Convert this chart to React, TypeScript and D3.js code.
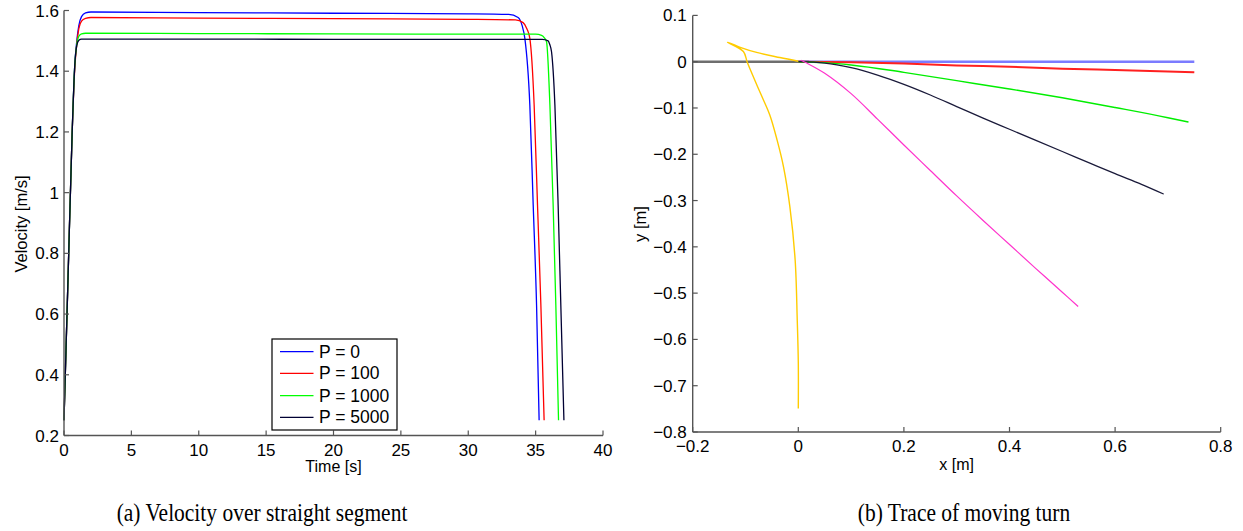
import React from "react";
import * as d3 from "d3";

// ---------- Left chart data: velocity over time ----------
const blueT = [0, 0.3, 0.6, 0.8, 0.95, 1.1, 1.3, 1.6, 2.0, 10, 20, 30, 33.0, 33.7, 34.0, 34.2, 34.57, 34.82, 35.07, 35.26];
const blueV = [0.25, 0.72, 1.19, 1.42, 1.5, 1.55, 1.58, 1.592, 1.595, 1.593, 1.591, 1.589, 1.587, 1.577, 1.55, 1.508, 1.289, 0.959, 0.629, 0.25];
const redT = [0, 0.3, 0.6, 0.8, 0.95, 1.1, 1.3, 1.6, 2.0, 10, 20, 30, 33.5, 34.07, 34.35, 34.57, 34.89, 35.14, 35.39, 35.63];
const redV = [0.25, 0.72, 1.19, 1.41, 1.49, 1.54, 1.565, 1.574, 1.577, 1.575, 1.573, 1.571, 1.569, 1.56, 1.54, 1.508, 1.289, 0.959, 0.629, 0.25];
const greenT = [0, 0.3, 0.6, 0.8, 0.95, 1.1, 1.3, 1.6, 10, 20, 30, 35.0, 35.44, 35.65, 35.81, 36.06, 36.3, 36.5, 36.7];
const greenV = [0.25, 0.72, 1.19, 1.42, 1.49, 1.515, 1.523, 1.525, 1.524, 1.523, 1.522, 1.522, 1.518, 1.51, 1.497, 1.289, 0.959, 0.629, 0.25];
const blackT = [0, 0.3, 0.6, 0.8, 0.95, 1.1, 1.3, 10, 20, 30, 35.5, 35.93, 36.05, 36.18, 36.43, 36.67, 36.87, 37.1];
const blackV = [0.25, 0.72, 1.19, 1.42, 1.485, 1.502, 1.506, 1.506, 1.505, 1.505, 1.505, 1.5, 1.488, 1.464, 1.289, 0.959, 0.629, 0.25];
const legendLabels = ["P = 0", "P = 100", "P = 1000", "P = 5000"];

const leftXTicks = [0, 5, 10, 15, 20, 25, 30, 35, 40];
const leftXLabels = ["0", "5", "10", "15", "20", "25", "30", "35", "40"];
const leftYTicks = [0.2, 0.4, 0.6, 0.8, 1.0, 1.2, 1.4, 1.6];
const leftYLabels = ["0.2", "0.4", "0.6", "0.8", "1", "1.2", "1.4", "1.6"];

// ---------- Right chart data: traces ----------
const grayX = [-0.2, 0.02];
const grayY = [0, 0];
const trBlueX = [0, 0.75];
const trBlueY = [0, 0];
const trRedX = [0, 0.1, 0.2, 0.3, 0.4, 0.5, 0.6, 0.7, 0.75];
const trRedY = [0, -0.001, -0.004, -0.008, -0.011, -0.015, -0.018, -0.021, -0.023];
const trGreenX = [0, 0.05, 0.1, 0.2, 0.3, 0.4, 0.5, 0.6, 0.7, 0.739];
const trGreenY = [0, -0.002, -0.007, -0.023, -0.041, -0.059, -0.078, -0.099, -0.121, -0.1305];
const trBlackX = [0, 0.05, 0.1, 0.15, 0.2, 0.25, 0.3, 0.35, 0.4, 0.45, 0.5, 0.55, 0.6, 0.65, 0.692];
const trBlackY = [0, -0.003, -0.013, -0.029, -0.049, -0.072, -0.097, -0.122, -0.146, -0.17, -0.194, -0.218, -0.242, -0.265, -0.286];
const trMagX = [0.005, 0.016, 0.05, 0.1, 0.15, 0.2, 0.25, 0.3, 0.35, 0.4, 0.45, 0.5, 0.53];
const trMagY = [0.003, -0.003, -0.025, -0.069, -0.124, -0.18, -0.235, -0.29, -0.343, -0.395, -0.447, -0.498, -0.529];
const trYelX = [0, -0.035, -0.079, -0.11, -0.134, -0.104, -0.097, -0.088, -0.071, -0.054, -0.04, -0.028, -0.016, -0.006, -0.002, 0, 0];
const trYelY = [0.001, 0.009, 0.02, 0.031, 0.042, 0.022, 0, -0.025, -0.07, -0.115, -0.17, -0.227, -0.313, -0.428, -0.558, -0.65, -0.749];

const rightXTicks = [-0.2, 0, 0.2, 0.4, 0.6, 0.8];
const rightXLabels = ["\u22120.2", "0", "0.2", "0.4", "0.6", "0.8"];
const rightYTicks = [0.1, 0, -0.1, -0.2, -0.3, -0.4, -0.5, -0.6, -0.7, -0.8];
const rightYLabels = ["0.1", "0", "\u22120.1", "\u22120.2", "\u22120.3", "\u22120.4", "\u22120.5", "\u22120.6", "\u22120.7", "\u22120.8"];

const SANS = "'Liberation Sans', Arial, Helvetica, sans-serif";
const SERIF = "'Liberation Serif', 'Times New Roman', serif";
const AXIS = "#555";

export default function App() {
  const xL = d3.scaleLinear().domain([0, 40]).range([64, 603]);
  const yL = d3.scaleLinear().domain([0.2, 1.6]).range([435.5, 10.5]);
  const xR = d3.scaleLinear().domain([-0.2, 0.8]).range([692.7, 1220.7]);
  const yR = d3.scaleLinear().domain([-0.8, 0.1]).range([432, 15.4]);

  const lineL = (ts: number[], vs: number[]) =>
    d3.line<number>().x((_, i) => xL(ts[i])).y((v) => yL(v)).curve(d3.curveMonotoneX)(vs) || "";
  const lineR = (xs: number[], ys: number[], monotone: boolean) =>
    d3
      .line<number>()
      .x((_, i) => xR(xs[i]))
      .y((v) => yR(v))
      .curve(monotone ? d3.curveMonotoneX : d3.curveCatmullRom.alpha(0.5))(ys) || "";

  const leftSeries = [
    { t: blueT, v: blueV, c: "#0000ff" },
    { t: redT, v: redV, c: "#ff0000" },
    { t: greenT, v: greenV, c: "#00ff00" },
    { t: blackT, v: blackV, c: "#000033" },
  ];

  const rightSeries = [
    { x: grayX, y: grayY, c: "#6e6e6e", w: 2.5, m: true },
    { x: trBlueX, y: trBlueY, c: "#7b7bff", w: 2.5, m: true },
    { x: trRedX, y: trRedY, c: "#ff2020", w: 2, m: true },
    { x: trGreenX, y: trGreenY, c: "#00ee00", w: 1.4, m: true },
    { x: trBlackX, y: trBlackY, c: "#1a1a3a", w: 1.3, m: true },
    { x: trMagX, y: trMagY, c: "#ff33cc", w: 1.2, m: false },
    { x: trYelX, y: trYelY, c: "#ffcc00", w: 1.4, m: false },
  ];

  const [l0, l1] = xL.range();
  const [b0, t0] = yL.range();
  const [r0, r1] = xR.range();
  const [rb, rt] = yR.range();

  const legend = { x: 272, y: 339, w: 125, h: 91 };
  const rowY = [351.7, 373.3, 395.7, 417.3];

  return (
    <svg width={1243} height={531} style={{ display: "block", position: "absolute", left: 0, top: 0, background: "#fff" }}>
      <rect x={0} y={0} width={1243} height={531} fill="#fff" />
      {/* ===== Left chart ===== */}
      <g>
        {leftSeries.map((s, i) => (
          <path key={i} d={lineL(s.t, s.v)} fill="none" stroke={s.c} strokeWidth={1.3} />
        ))}
        <line x1={l0} x2={l0} y1={b0} y2={t0} stroke={AXIS} strokeWidth={1.4} />
        <line x1={l0} x2={l1} y1={b0} y2={b0} stroke={AXIS} strokeWidth={1.4} />
        {leftYTicks.map((v, i) => (
          <g key={i}>
            <line x1={l0} x2={l0 + 5} y1={yL(v)} y2={yL(v)} stroke={AXIS} strokeWidth={1.2} />
            <text x={l0 - 5} y={yL(v) + 6} textAnchor="end" fontFamily={SANS} fontSize={17}>
              {leftYLabels[i]}
            </text>
          </g>
        ))}
        {leftXTicks.map((v, i) => (
          <g key={i}>
            <line x1={xL(v)} x2={xL(v)} y1={b0} y2={b0 - 5} stroke={AXIS} strokeWidth={1.2} />
            <text x={xL(v)} y={456} textAnchor="middle" fontFamily={SANS} fontSize={17}>
              {leftXLabels[i]}
            </text>
          </g>
        ))}
        <text x={(l0 + l1) / 2} y={472} textAnchor="middle" fontFamily={SANS} fontSize={16}>
          Time [s]
        </text>
        <text transform={`translate(27,224) rotate(-90)`} textAnchor="middle" fontFamily={SANS} fontSize={16.5}>
          Velocity [m/s]
        </text>
        <rect x={legend.x} y={legend.y} width={legend.w} height={legend.h} fill="#fff" stroke="#000" strokeWidth={1.2} />
        {legendLabels.map((lab, i) => (
          <g key={i}>
            <line x1={280} x2={313.5} y1={rowY[i]} y2={rowY[i]} stroke={leftSeries[i].c} strokeWidth={1.3} />
            <text x={319} y={rowY[i] + 6} fontFamily={SANS} fontSize={17.5}>
              {lab}
            </text>
          </g>
        ))}
        <g transform="translate(262,521) scale(0.86,1)">
          <text x={0} y={0} textAnchor="middle" fontFamily={SERIF} fontSize={25}>
            (a) Velocity over straight segment
          </text>
        </g>
      </g>

      {/* ===== Right chart ===== */}
      <g>
        {rightSeries.map((s, i) => (
          <path key={i} d={lineR(s.x, s.y, s.m)} fill="none" stroke={s.c} strokeWidth={s.w} />
        ))}
        <line x1={r0} x2={r0} y1={rb} y2={rt} stroke={AXIS} strokeWidth={1.4} />
        <line x1={r0} x2={r1} y1={rb} y2={rb} stroke={AXIS} strokeWidth={1.4} />
        {rightYTicks.map((v, i) => (
          <g key={i}>
            <line x1={r0} x2={r0 + 5} y1={yR(v)} y2={yR(v)} stroke={AXIS} strokeWidth={1.2} />
            <text x={r0 - 6} y={yR(v) + 6} textAnchor="end" fontFamily={SANS} fontSize={17}>
              {rightYLabels[i]}
            </text>
          </g>
        ))}
        {rightXTicks.map((v, i) => (
          <g key={i}>
            <line x1={xR(v)} x2={xR(v)} y1={rb} y2={rb - 5} stroke={AXIS} strokeWidth={1.2} />
            <text x={xR(v)} y={452} textAnchor="middle" fontFamily={SANS} fontSize={17}>
              {rightXLabels[i]}
            </text>
          </g>
        ))}
        <text x={(r0 + r1) / 2} y={470} textAnchor="middle" fontFamily={SANS} fontSize={16}>
          x [m]
        </text>
        <text transform={`translate(646,224) rotate(-90)`} textAnchor="middle" fontFamily={SANS} fontSize={16.5}>
          y [m]
        </text>
        <g transform="translate(964,521) scale(0.86,1)">
          <text x={0} y={0} textAnchor="middle" fontFamily={SERIF} fontSize={25}>
            (b) Trace of moving turn
          </text>
        </g>
      </g>
    </svg>
  );
}
